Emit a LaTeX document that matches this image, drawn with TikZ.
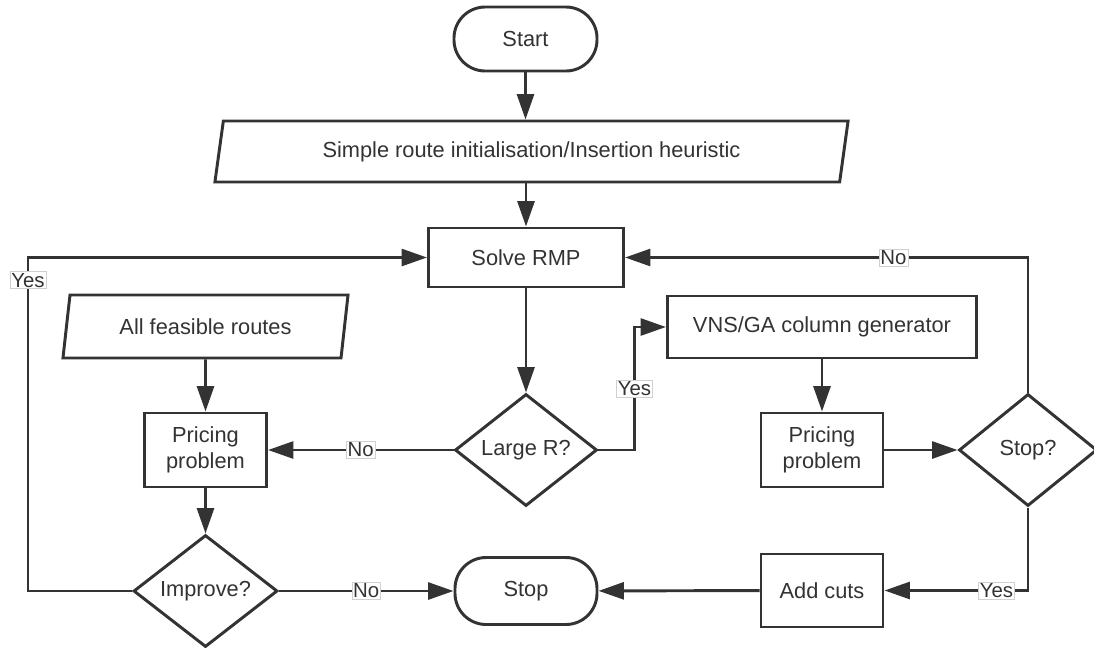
\documentclass[tikz,border=0pt]{standalone}
\usepackage{fontspec}
\setmainfont{Liberation Sans}
\usetikzlibrary{shapes.geometric,arrows.meta}
\definecolor{ink}{HTML}{333333}
\definecolor{lblline}{HTML}{D0D0D0}
\begin{document}
\begin{tikzpicture}[x=0.025cm,y=-0.025cm,
	every node/.style={text=ink,font=\fontsize{15.5}{18.5}\selectfont},
	box/.style={draw=ink,line width=2.1pt,fill=white,align=center,inner sep=2pt},
	terminal/.style={box,rounded corners=0.78cm},
	io/.style={box,trapezium,trapezium left angle=72,trapezium right angle=108,trapezium stretches body},
	decision/.style={box,diamond,inner sep=0pt},
	flow/.style={draw=ink,line width=2.1pt,-{Triangle[length=18pt,width=12pt]}},
	lbl/.style={draw=lblline,line width=0.4pt,fill=white,inner sep=1pt,font=\fontsize{14.5}{14.5}\selectfont}]
			\useasboundingbox (0,0) rectangle (1094,647);
			\node[terminal,minimum width=3.575cm,minimum height=1.6cm] (start) at (525.5,39) {Start};
			\node[io,minimum width=15.825cm,minimum height=1.525cm] (init) at (531.5,151.5) {Simple route initialisation/Insertion heuristic};
			\node[box,minimum width=4.875cm,minimum height=1.475cm] (rmp) at (526,257.5) {Solve RMP};
			\node[io,minimum width=7.125cm,minimum height=1.575cm] (routes) at (205.5,326.5) {All feasible routes};
			\node[box,minimum width=3.05cm,minimum height=1.85cm] (priceL) at (205.5,450) {Pricing\\problem};
			\node[decision,minimum width=3.55cm,minimum height=2.8cm] (larger) at (526,450) {Large R?};
			\node[box,minimum width=7.725cm,minimum height=1.55cm] (vns) at (822,327) {VNS/GA column generator};
			\node[box,minimum width=3.05cm,minimum height=1.85cm] (priceR) at (822,450) {Pricing\\problem};
			\node[decision,minimum width=3.45cm,minimum height=2.8cm] (stopq) at (1028,450) {Stop?};
			\node[decision,minimum width=3.6cm,minimum height=2.8cm] (improve) at (205.5,591) {Improve?};
			\node[terminal,minimum width=3.55cm,minimum height=1.675cm] (stop) at (526,591) {Stop};
			\node[box,minimum width=3.05cm,minimum height=1.825cm] (cuts) at (822,590.5) {Add cuts};
			\draw[flow] (start) -- (start |- init.north);
			\draw[flow] (rmp |- init.south) -- (rmp);
			\draw[flow] (rmp) -- (larger);
			\draw[flow] (larger) -- node[lbl]{No} (priceL);
			\draw[flow] (larger.east) -- ++(36,0) |- node[lbl,pos=0.25]{Yes} (vns.west);
			\draw[flow] (routes) -- (priceL);
			\draw[flow] (priceL) -- (improve);
			\draw[flow] (improve) -- node[lbl]{No} (stop);
			\draw[flow] (improve.west) -- ++(-104,0) |- node[lbl,pos=0.466]{Yes} (rmp.west);
			\draw[flow] (vns) -- (priceR);
			\draw[flow] (priceR) -- (stopq);
			\draw[flow] (stopq.north) |- node[lbl,pos=0.667]{No} (rmp.east);
			\draw[flow] (stopq.south) |- node[lbl,pos=0.61]{Yes} (cuts.east);
			\draw[flow] (cuts) -- (stop);
		\end{tikzpicture}
\end{document}
